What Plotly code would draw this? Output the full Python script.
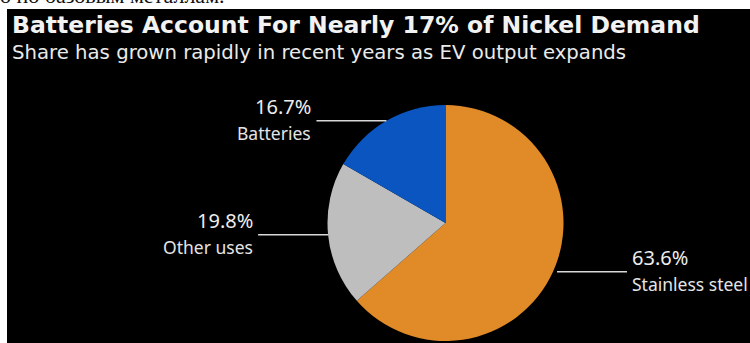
import math
import plotly.graph_objects as go

# ---- data ----
categories = ["Stainless steel", "Other uses", "Batteries"]
shares = [63.6, 19.8, 16.7]
pct_labels = ["63.6%", "19.8%", "16.7%"]
colors = ["#E08B28", "#BEBEBE", "#0A55C0"]

title = "Batteries Account For Nearly 17% of Nickel Demand"
subtitle = "Share has grown rapidly in recent years as EV output expands"
top_text = "о по базовым металлам."

W, H = 750, 343
def px(x):
    return x / W
def py(y):
    return 1 - y / H

# pie geometry (pixels)
cx, cy, r = 445.5, 223.0, 118.0

fig = go.Figure()
fig.add_trace(go.Pie(
    labels=categories, values=shares, sort=False, direction="clockwise",
    rotation=0, marker=dict(colors=colors, line=dict(width=0)),
    textinfo="none", hoverinfo="none", showlegend=False,
    domain=dict(x=[px(cx - r), px(cx + r)], y=[py(cy + r), py(cy - r)]),
))

shapes = [
    dict(type="rect", xref="paper", yref="paper", x0=0, x1=1, y0=py(9), y1=1,
         fillcolor="white", line=dict(width=0)),
    dict(type="rect", xref="paper", yref="paper", x0=0, x1=px(7), y0=0, y1=1,
         fillcolor="white", line=dict(width=0)),
]
annotations = [
    dict(text=top_text, x=px(-2), y=py(9.5), xanchor="left", yanchor="bottom",
         font=dict(family="Liberation Serif", size=22, color="#111111")),
    dict(text="<b>" + title + "</b>", x=px(10), y=py(25), xanchor="left", yanchor="middle",
         font=dict(family="DejaVu Sans", size=23.5, color="#F2F2F2")),
    dict(text=subtitle, x=px(10), y=py(52), xanchor="left", yanchor="middle",
         font=dict(family="DejaVu Sans", size=19.7, color="#EAEAEA")),
]

# leader lines and labels, computed from slice mid-angles
cum = 0.0
total = sum(shares)
line_len = 70
for cat, v, pl in zip(categories, shares, pct_labels):
    mid = (cum + v / 2) / total * 2 * math.pi
    cum += v
    ex = cx + r * math.sin(mid)
    ey = cy - r * math.cos(mid)
    if ex < cx:
        x0, x1 = ex - line_len, ex
        tx, anchor = x0 - 3, "right"
    else:
        x0, x1 = ex + 4, ex + 4 + line_len
        tx, anchor = x1 + 3, "left"
    shapes.append(dict(type="line", xref="paper", yref="paper", x0=px(x0), x1=px(x1),
                       y0=py(ey), y1=py(ey), line=dict(color="#D8D8D8", width=1.5)))
    annotations.append(dict(text=pl, x=px(tx), y=py(ey - 14), xanchor=anchor, yanchor="middle",
                            font=dict(family="Noto Sans", size=20, color="#EDEDED")))
    annotations.append(dict(text=cat, x=px(tx), y=py(ey + 12), xanchor=anchor, yanchor="middle",
                            font=dict(family="Noto Sans", size=17.5, color="#E4E4E4")))

for a in annotations:
    a.update(xref="paper", yref="paper", showarrow=False)

fig.update_layout(
    width=W, height=H, margin=dict(l=0, r=0, t=0, b=0),
    paper_bgcolor="black", plot_bgcolor="black",
    shapes=shapes, annotations=annotations,
)
fig.write_html("out.html")
